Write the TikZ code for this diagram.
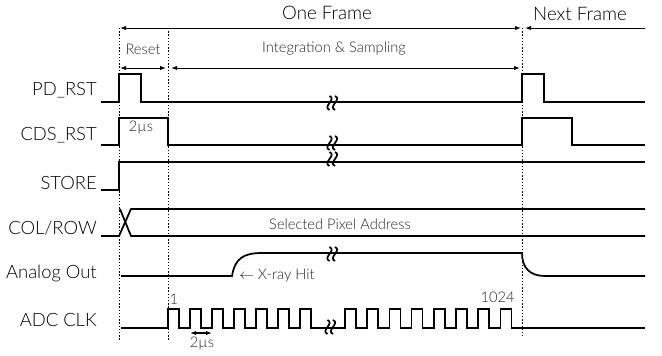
\documentclass[tikz,border=0pt]{standalone}
\usepackage{fontspec}
\setmainfont{Lato}[UprightFont=* Light]
\usetikzlibrary{arrows.meta}
\begin{document}
\begin{tikzpicture}[x=0.75pt,y=-0.75pt,
  sig/.style={line width=1.3pt, line join=miter},
  dim/.style={line width=0.7pt},
  tipr/.style={-{Latex[length=4.5pt,width=3.2pt]}},
  tipb/.style={{Latex[length=4.5pt,width=3.2pt]}-{Latex[length=4.5pt,width=3.2pt]}},
  guide/.style={line width=0.75pt, dash pattern=on 1.1pt off 1.3pt},
  lab/.style={anchor=east, inner sep=0pt, text=black, font=\fontsize{13.8}{15}\selectfont},
  big/.style={inner sep=0pt, text=black, font=\fontsize{14}{16}\selectfont},
  small/.style={inner sep=0pt, text=black!85, font=\fontsize{11}{13}\selectfont},
  brk/.pic={\draw[line width=1.3pt] (-2.5,-7) .. controls (5,-3.5) and (-10,3.5) .. (-2.5,7);
            \draw[line width=1.3pt] (3,-7) .. controls (10.5,-3.5) and (-4.5,3.5) .. (3,7);}
]
\useasboundingbox (0,0) rectangle (662,356);

% guide lines
\coordinate (g1t) at (119,28);  \coordinate (g1b) at (119,340);
\coordinate (g2t) at (168,28);  \coordinate (g2b) at (168,340);
\coordinate (g3t) at (522,28);  \coordinate (g3b) at (522,336);
\draw[guide] (g1t) -- (g1b);
\draw[guide] (g2t) -- (g2b);
\draw[guide] (g3t) -- (g3b);

% frame arrows
\coordinate (of1) at (120,28); \coordinate (of2) at (521,28);
\coordinate (nf1) at (645,28); \coordinate (nf2) at (525,28);
\coordinate (rs1) at (120,68); \coordinate (rs2) at (166,68);
\coordinate (is1) at (171,68); \coordinate (is2) at (520,68);
\draw[dim,tipb] (of1) -- (of2);
\draw[dim,tipr] (nf1) -- (nf2);
\draw[dim,tipb] (rs1) -- (rs2);
\draw[dim,tipb] (is1) -- (is2);
\node[big] (oneframe) at (327,13) {One Frame};
\node[big] (nextframe) at (580,14) {Next Frame};
\node[small] (reset) at (143,49) {Reset};
\node[small] (integ) at (334,49) {Integration \& Sampling};

% labels
\node[lab] (lpd)  at (97,90)  {PD\_RST};
\node[lab] (lcds) at (97,135) {CDS\_RST};
\node[lab] (lst)  at (97,183) {STORE};
\node[lab] (lcr)  at (97,228) {COL/ROW};
\node[lab] (lao)  at (97,274) {Analog Out};
\node[lab] (lclk) at (97,320) {ADC CLK};

% PD_RST
\draw[sig] (101,102) -- (119,102) -- (119,74) -- (141,74) -- (141,102) -- (522,102)
  -- (522,74) -- (544,74) -- (544,102) -- (645,102);
% CDS_RST
\draw[sig] (101,145) -- (119,145) -- (119,118) -- (168,118) -- (168,145) -- (522,145)
  -- (522,118) -- (572,118) -- (572,145) -- (645,145);
\node[small] (t2us) at (141,128) {2µs};
% STORE
\draw[sig] (101,190) -- (119,190) -- (119,162) -- (645,162);
% COL/ROW
\draw[sig] (101,236) -- (119,236) -- (131,209) -- (645,209);
\draw[sig] (120,209) -- (131,236) -- (645,236);
\node[small] (addr) at (340,224) {Selected Pixel Address};
% Analog Out
\draw[sig] (121,276) -- (232,276) .. controls (235,258) and (244,253) .. (262,253)
  -- (522,253) .. controls (522,268) and (530,276) .. (545,276) -- (645,276);
\node[small,anchor=west] (xray) at (239,276) {$\leftarrow$ X-ray Hit};
% ADC CLK
\draw[sig] (121,328)
  foreach \k in {0,...,6} { -- ({168+22*\k},328) -- ({168+22*\k},309) -- ({179+22*\k},309) -- ({179+22*\k},328) }
  foreach \k in {0,...,7} { -- ({345+22.2*\k},328) -- ({345+22.2*\k},309) -- ({356+22.2*\k},309) -- ({356+22.2*\k},328) }
  -- (645,328);
\node[small] (n1) at (174,299) {1};
\node[small,anchor=east] (n1024) at (515,297.5) {1024};
\coordinate (p1) at (190,333); \coordinate (p2) at (212,333);
\draw[line width=1pt,tipb] (p1) -- (p2);
\node[small] (b2us) at (202,344) {2µs};

% break marks
\pic at (332,103) {brk};
\pic at (332,143) {brk};
\pic at (332,159) {brk};
\pic at (332,254) {brk};
\pic at (330,327) {brk};
\end{tikzpicture}
\end{document}
